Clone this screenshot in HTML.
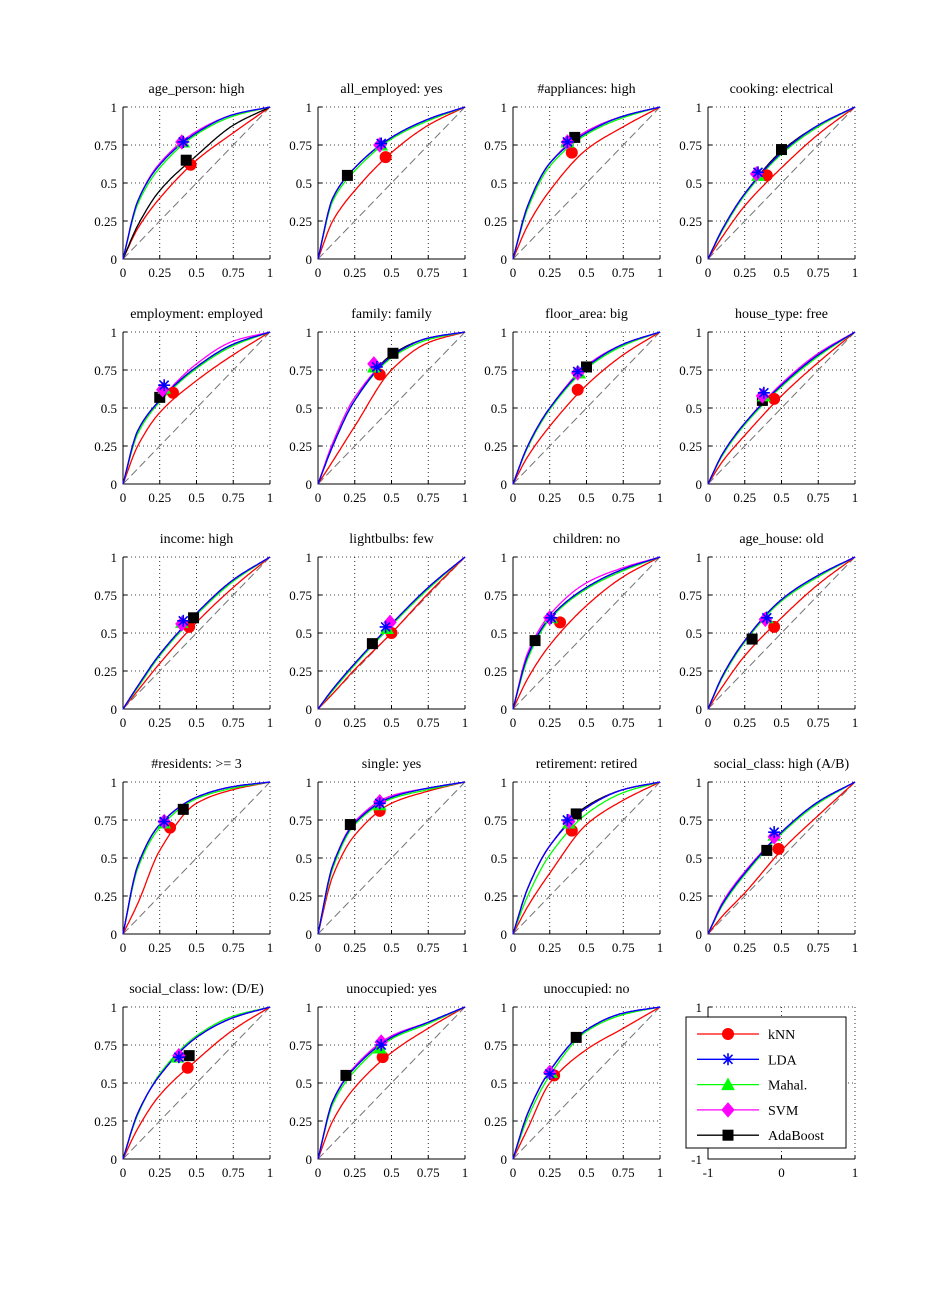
<!DOCTYPE html>
<html><head><meta charset="utf-8"><style>
html,body{margin:0;padding:0;background:#fff}
svg{display:block}
text{font-family:"Liberation Serif",serif;fill:#000}
</style></head><body>
<svg id="fig" width="946" height="1301" viewBox="0 0 946 1301" xmlns="http://www.w3.org/2000/svg"></svg>
<script>
const titles=["age_person: high","all_employed: yes","#appliances: high","cooking: electrical","employment: employed","family: family","floor_area: big","house_type: free","income: high","lightbulbs: few","children: no","age_house: old","#residents: >= 3","single: yes","retirement: retired","social_class: high (A/B)","social_class: low: (D/E)","unoccupied: yes","unoccupied: no"];
const fprGrid=[0,0.1,0.25,0.5,0.75,1];
// TPR at fpr 0.1,0.25,0.5,0.75 per panel
const knnCurves=[[.2,.4,.65,.83],[.25,.45,.7,.88],[.22,.45,.72,.87],[.15,.35,.6,.82],[.25,.47,.68,.85],[.15,.38,.75,.93],[.18,.38,.65,.85],[.15,.32,.58,.8],[.12,.3,.57,.8],[.1,.26,.5,.76],[.2,.42,.68,.87],[.15,.35,.6,.82],[.2,.55,.86,.95],[.38,.65,.86,.94],[.18,.4,.72,.88],[.12,.27,.55,.78],[.2,.42,.65,.85],[.25,.47,.7,.86],[.2,.5,.72,.86]];
const ldaCurves=[[.38,.62,.83,.95],[.4,.6,.8,.92],[.35,.63,.83,.94],[.2,.43,.7,.88],[.35,.55,.77,.92],[.25,.55,.84,.96],[.25,.5,.77,.92],[.2,.4,.65,.85],[.15,.36,.63,.85],[.13,.3,.56,.8],[.35,.6,.8,.92],[.22,.45,.72,.88],[.45,.72,.9,.97],[.45,.73,.9,.96],[.3,.58,.83,.95],[.2,.4,.67,.87],[.3,.55,.8,.93],[.38,.6,.8,.9],[.3,.58,.85,.96]];
const mahCurves=[[.36,.6,.82,.94],[.38,.58,.79,.91],[.33,.61,.82,.93],[.19,.42,.69,.87],[.33,.54,.76,.91],[.25,.55,.83,.95],[.24,.49,.76,.91],[.19,.39,.64,.84],[.14,.35,.62,.84],[.12,.29,.55,.79],[.33,.59,.79,.91],[.21,.44,.71,.87],[.43,.7,.89,.96],[.43,.72,.89,.95],[.25,.52,.79,.93],[.19,.39,.66,.86],[.29,.56,.81,.94],[.36,.58,.79,.89],[.27,.55,.84,.95]];
const svmCurves=[[.38,.63,.84,.95],[.4,.6,.8,.92],[.35,.63,.84,.94],[.2,.43,.7,.88],[.35,.55,.79,.94],[.27,.57,.84,.96],[.25,.5,.78,.92],[.2,.4,.66,.86],[.15,.36,.63,.85],[.13,.3,.56,.8],[.37,.62,.83,.93],[.22,.45,.72,.88],[.45,.72,.9,.97],[.45,.74,.91,.96],[.3,.58,.83,.95],[.21,.41,.67,.87],[.3,.55,.8,.93],[.38,.61,.81,.9],[.3,.58,.85,.96]];
const adaCurves=[[.22,.45,.68,.88],[.4,.6,.8,.92],[.35,.63,.84,.94],[.2,.43,.71,.88],[.35,.55,.77,.92],[.25,.55,.85,.96],[.25,.5,.77,.92],[.2,.4,.65,.85],[.15,.36,.63,.85],[.13,.3,.55,.8],[.35,.6,.8,.92],[.22,.45,.72,.88],[.45,.72,.9,.97],[.45,.73,.9,.96],[.3,.58,.84,.95],[.2,.4,.67,.87],[.3,.55,.8,.93],[.38,.6,.8,.9],[.3,.58,.85,.96]];
// operating points [fpr,tpr]
const knnPts=[[.46,.62],[.46,.67],[.4,.7],[.4,.55],[.34,.6],[.42,.72],[.44,.62],[.45,.56],[.45,.54],[.5,.5],[.32,.57],[.45,.54],[.32,.7],[.42,.81],[.4,.68],[.48,.56],[.44,.6],[.44,.67],[.28,.55]];
const ldaPts=[[.41,.77],[.43,.76],[.37,.77],[.34,.57],[.28,.65],[.4,.77],[.44,.74],[.38,.6],[.41,.58],[.46,.54],[.26,.6],[.4,.6],[.28,.74],[.42,.86],[.37,.75],[.45,.67],[.38,.67],[.43,.75],[.25,.56]];
const mahPts=[[.41,.77],[.43,.75],[.37,.77],[.34,.55],[.28,.63],[.38,.77],[.45,.73],[.38,.58],[.4,.57],[.47,.53],[.26,.6],[.4,.6],[.28,.73],[.42,.85],[.38,.73],[.45,.65],[.37,.67],[.42,.73],[.26,.57]];
const svmPts=[[.4,.77],[.42,.75],[.37,.77],[.33,.56],[.27,.62],[.38,.79],[.44,.73],[.37,.58],[.4,.56],[.49,.57],[.25,.6],[.39,.59],[.28,.74],[.42,.87],[.38,.74],[.45,.64],[.38,.68],[.43,.77],[.25,.57]];
const adaPts=[[.43,.65],[.2,.55],[.42,.8],[.5,.72],[.25,.57],[.51,.86],[.5,.77],[.37,.55],[.48,.6],[.37,.43],[.15,.45],[.3,.46],[.41,.82],[.22,.72],[.43,.79],[.4,.55],[.45,.68],[.19,.55],[.43,.8]];
const ticks=[0,0.25,0.5,0.75,1];
const tickLabels=["0","0.25","0.5","0.75","1"];
const legendLabels=["kNN","LDA","Mahal.","SVM","AdaBoost"];

const NS="http://www.w3.org/2000/svg";
const fig=document.getElementById('fig');
function mk(tag,attrs,parent){const e=document.createElementNS(NS,tag);for(const k in attrs)e.setAttribute(k,attrs[k]);(parent||fig).appendChild(e);return e;}
const colX=[123,318,513,708], rowY=[107,332,557,782,1007], W=147, H=152;

function interp(xs,ys,x){ // monotone cubic (Fritsch-Carlson)
  const n=xs.length;const d=[],m=[];
  for(let i=0;i<n-1;i++)d.push((ys[i+1]-ys[i])/(xs[i+1]-xs[i]));
  m[0]=d[0];m[n-1]=d[n-2];
  for(let i=1;i<n-1;i++)m[i]=(d[i-1]*d[i]<=0)?0:2/(1/d[i-1]+1/d[i]);
  let i=0;while(i<n-2&&x>xs[i+1])i++;
  const h=xs[i+1]-xs[i],t=(x-xs[i])/h,t2=t*t,t3=t2*t;
  return (2*t3-3*t2+1)*ys[i]+(t3-2*t2+t)*h*m[i]+(-2*t3+3*t2)*ys[i+1]+(t3-t2)*h*m[i+1];
}
function marker(g,type,cx,cy,color){
  let e;
  if(type==='o'){e=mk('circle',{cx,cy,r:5.5,fill:color,stroke:color},g);}
  else if(type==='*'){e=mk('path',{d:`M${cx-6} ${cy}H${cx+6}M${cx} ${cy-6}V${cy+6}M${cx-4.5} ${cy-4.5}L${cx+4.5} ${cy+4.5}M${cx-4.5} ${cy+4.5}L${cx+4.5} ${cy-4.5}`,stroke:color,'stroke-width':1.6,fill:'none'},g);}
  else if(type==='^'){e=mk('path',{d:`M${cx} ${cy-6}L${cx+6} ${cy+5}L${cx-6} ${cy+5}Z`,fill:color,stroke:color},g);}
  else if(type==='d'){e=mk('path',{d:`M${cx} ${cy-7}L${cx+6} ${cy}L${cx} ${cy+7}L${cx-6} ${cy}Z`,fill:color,stroke:color},g);}
  else {e=mk('rect',{x:cx-5,y:cy-5,width:10,height:10,fill:color,stroke:color},g);}
  return e;
}
const series=[
 {name:'knn',curves:knnCurves,pts:knnPts,color:'#ff0000',m:'o'},
 {name:'ada',curves:adaCurves,pts:adaPts,color:'#000000',m:'s'},
 {name:'mahal',curves:mahCurves,pts:mahPts,color:'#00ff00',m:'^'},
 {name:'svm',curves:svmCurves,pts:svmPts,color:'#ff00ff',m:'d'},
 {name:'lda',curves:ldaCurves,pts:ldaPts,color:'#0000ff',m:'*'}];

function axesFrame(g,x0,y0,xt,yt,xl,yl){
  xt.forEach((v,i)=>{const X=x0+v*W;
    if(i>0&&i<xt.length-1||i===xt.length-1) {const gl=mk('line',{x1:X,y1:y0,x2:X,y2:y0+H,stroke:'#000','stroke-dasharray':'1,3','stroke-width':0.8},g);}
    mk('line',{x1:X,y1:y0+H,x2:X,y2:y0+H-4,stroke:'#000'},g);
    const t=mk('text',{x:X,y:y0+H+18,'font-size':13,'text-anchor':'middle'},g);t.textContent=xl[i];
    
    });
  yt.forEach((v,i)=>{const Y=y0+H-v*H;
    if(i>0){const gl=mk('line',{x1:x0,y1:Y,x2:x0+W,y2:Y,stroke:'#000','stroke-dasharray':'1,3','stroke-width':0.8},g);}
    mk('line',{x1:x0,y1:Y,x2:x0+4,y2:Y,stroke:'#000'},g);
    const t=mk('text',{x:x0-6,y:Y+5,'font-size':13,'text-anchor':'end'},g);t.textContent=yl[i];
    
    });
  const ax=mk('path',{d:`M${x0} ${y0}V${y0+H}H${x0+W}`,stroke:'#000',fill:'none','stroke-width':1},g);
  
  
}

titles.forEach((title,p)=>{
  const x0=colX[p%4], y0=rowY[Math.floor(p/4)];
  const g=mk('g',{});
  
  
  const sx=v=>x0+v*W, sy=v=>y0+H-v*H;
  axesFrame(g,x0,y0,ticks,ticks,tickLabels,tickLabels);
  const diag=mk('line',{x1:sx(0),y1:sy(0),x2:sx(1),y2:sy(1),stroke:'#777','stroke-dasharray':'8,4','stroke-width':1},g);
  
  
  series.forEach(s=>{
    const ys=[0].concat(s.curves[p]).concat([1]);
    let d='';
    for(let k=0;k<=100;k++){const f=k/100;let t=Math.min(1,Math.max(0,interp(fprGrid,ys,f)));d+=(k?'L':'M')+sx(f).toFixed(1)+' '+sy(t).toFixed(1);}
    const path=mk('path',{d,stroke:s.color,fill:'none','stroke-width':1.3},g);
    
    
  });
  series.forEach(s=>{
    const pt=s.pts[p];
    const mm=marker(g,s.m,sx(pt[0]),sy(pt[1]),s.color);
    
    
  });
  const t=mk('text',{x:x0+W/2,y:y0-14,'font-size':14,'text-anchor':'middle'},g);
  t.textContent=title;
  
  
});

// legend panel
(function(){
  const x0=colX[3], y0=rowY[4];
  const g=mk('g',{});
  
  
  axesFrame(g,x0,y0,[0,0.5,1],[0,0.5,1],["-1","0","1"],["-1","0","1"]);
  const box=mk('rect',{x:686,y:1017,width:160,height:131,fill:'#fff',stroke:'#000'},g);
  
  
  const order=['knn','lda','mahal','svm','ada'];
  order.forEach((nm,i)=>{
    const s=series.find(z=>z.name===nm);const y=1034+i*25.3;
    const eg=mk('g',{},g);
    
    
    mk('line',{x1:697,y1:y,x2:759,y2:y,stroke:s.color,'stroke-width':1.3},eg);
    marker(eg,s.m,728,y,s.color);
    const t=mk('text',{x:768,y:y+5,'font-size':14},eg);t.textContent=legendLabels[i];
  });
})();
</script>
</body></html>
